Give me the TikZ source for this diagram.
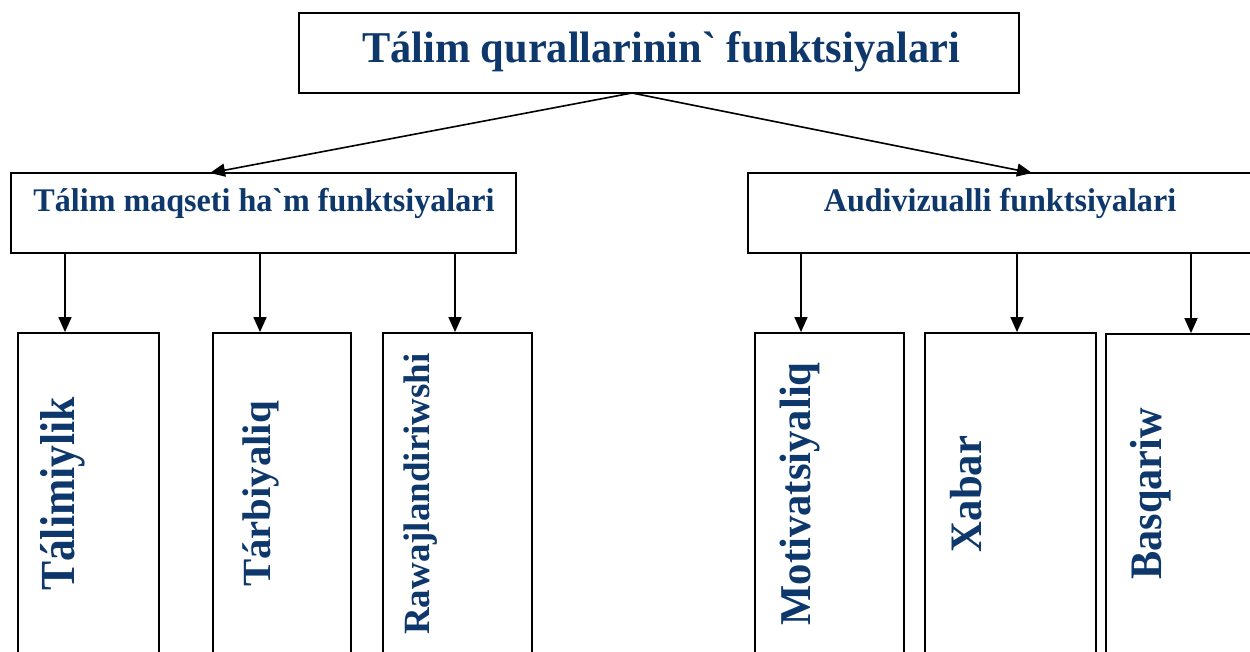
\documentclass[tikz,border=0pt]{standalone}
\usepackage{fontspec}
\setmainfont{Liberation Serif}[Ligatures=TeXOff]
\usetikzlibrary{arrows.meta}
\definecolor{txtblue}{RGB}{14,56,108}
\newcommand{\sqtxt}[3]{\scalebox{#2}[1]{\fontsize{#1}{#1}\selectfont\bfseries #3}}
\begin{document}
\begin{tikzpicture}[x=1pt,y=-1pt,
  box/.style={draw=black, line width=1.8pt, fill=white, inner sep=0pt},
  lbl/.style={text=txtblue, inner sep=0pt},
  vlbl/.style={text=txtblue, inner sep=0pt, rotate=90},
  arr/.style={line width=1.6pt, -{Triangle[length=15pt,width=13pt]}},
  con/.style={line width=1.6pt}]
\useasboundingbox (0,0) rectangle (1250,652);
\clip (0,0) rectangle (1250,652);
\fill[white] (0,0) rectangle (1250,652);

% top box
\node[box, minimum width=720pt, minimum height=80pt] (top) at (659,53) {};
\node[lbl, anchor=base] (topt) at (661,63) {\sqtxt{44}{0.963}{Tálim qurallarinin` funktsiyalari}};

% middle boxes
\node[box, minimum width=505pt, minimum height=80pt] (mL) at (263.5,213) {};
\node[lbl, anchor=base] (mLt) at (264,212) {\sqtxt{33}{0.973}{Tálim maqseti ha`m funktsiyalari}};
\node[box, minimum width=503pt, minimum height=80pt] (mR) at (999.5,213) {};
\node[lbl, anchor=base] (mRt) at (1000,212) {\sqtxt{33}{0.973}{Audivizualli funktsiyalari}};

% bottom boxes
\node[box, minimum width=141pt, minimum height=400pt] (b1) at (88.5,533) {};
\node[box, minimum width=138pt, minimum height=400pt] (b2) at (282,533) {};
\node[box, minimum width=149pt, minimum height=400pt] (b3) at (457.5,533) {};
\node[box, minimum width=149pt, minimum height=400pt] (b4) at (829.5,533) {};
\node[box, minimum width=171pt, minimum height=400pt] (b5) at (1010.5,533) {};
\node[box, minimum width=194pt, minimum height=400pt] (b6) at (1203,534) {};

% vertical labels
\node[vlbl] (t1) at (63,494) {\sqtxt{49}{0.89}{Tálimiylik}};
\node[vlbl] (t2) at (261,494) {\sqtxt{40}{1.02}{Tárbiyaliq}};
\node[vlbl] (t3) at (421,494) {\sqtxt{37}{1}{Rawajlandiriwshi}};
\node[vlbl] (t4) at (800,494) {\sqtxt{44}{0.97}{Motivatsiyaliq}};
\node[vlbl] (t5) at (966,494) {\sqtxt{45}{0.95}{Xabar}};
\node[vlbl] (t6) at (1151,494) {\sqtxt{45}{0.94}{Basqariw}};

% connectors from top
\coordinate (j) at (632,93);
\coordinate (aL) at (210,173);
\coordinate (aR) at (1032,173);
\draw[arr] (j) -- (aL);
\draw[arr] (j) -- (aR);

% down arrows
\coordinate (x1) at (65,0);
\coordinate (x2) at (260,0);
\coordinate (x3) at (455,0);
\coordinate (x4) at (801,0);
\coordinate (x5) at (1017,0);
\coordinate (x6) at (1191,0);
\draw[arr] (mL.south -| x1) -- (b1.north -| x1);
\draw[arr] (mL.south -| x2) -- (b2.north -| x2);
\draw[arr] (mL.south -| x3) -- (b3.north -| x3);
\draw[arr] (mR.south -| x4) -- (b4.north -| x4);
\draw[arr] (mR.south -| x5) -- (b5.north -| x5);
\draw[arr] (mR.south -| x6) -- (b6.north -| x6);
\end{tikzpicture}
\end{document}
